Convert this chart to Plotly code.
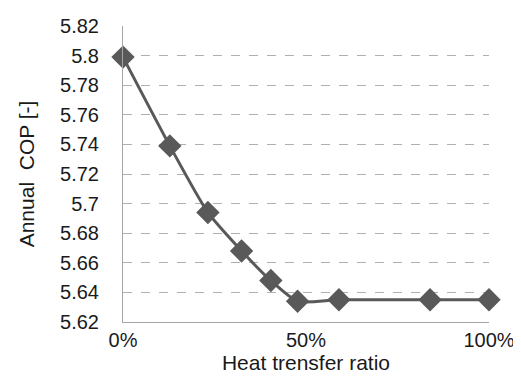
import plotly.graph_objects as go

x_ratio = [0, 12.8, 23.2, 32.4, 40.4, 47.7, 59.0, 83.9, 100]
cop = [5.799, 5.739, 5.694, 5.668, 5.648, 5.634, 5.635, 5.635, 5.635]
x_ticks = [0, 50, 100]
x_ticklabels = ["0%", "50%", "100%"]
y_ticks = [5.62, 5.64, 5.66, 5.68, 5.7, 5.72, 5.74, 5.76, 5.78, 5.8, 5.82]
y_ticklabels = ["5.62", "5.64", "5.66", "5.68", "5.7", "5.72", "5.74", "5.76", "5.78", "5.8", "5.82"]

fig = go.Figure()
fig.add_trace(go.Scatter(
    x=x_ratio, y=cop, mode="lines+markers",
    line=dict(color="#595959", width=3, shape="spline", smoothing=0.6),
    marker=dict(symbol="diamond", size=18, color="#595959"),
    cliponaxis=False, showlegend=False,
))

font = "Liberation Sans, Arial, sans-serif"
fig.update_layout(
    width=521, height=376,
    margin=dict(l=115, r=40, t=18, b=62),
    paper_bgcolor="white", plot_bgcolor="white",
    font=dict(family=font, size=20, color="#1a1a1a"),
    xaxis=dict(
        range=[0, 100], tickvals=x_ticks, ticktext=x_ticklabels,
        showgrid=False, zeroline=False, automargin=False,
        showline=True, linecolor="#a6a6a6", linewidth=1,
        ticks="",
        title=dict(text="Heat trensfer ratio", font=dict(size=21), standoff=0),
    ),
    yaxis=dict(
        range=[5.62, 5.82], tickvals=y_ticks, ticktext=y_ticklabels,
        showgrid=True, gridcolor="#b0b0b0", griddash="dash", gridwidth=1,
        zeroline=False, automargin=False,
        showline=True, linecolor="#a6a6a6", linewidth=1,
        ticks="outside", ticklen=19, tickcolor="rgba(0,0,0,0)",
        title=dict(text="Annual  COP [-]", font=dict(size=21), standoff=19),
    ),
)
fig.write_html("out.html")
